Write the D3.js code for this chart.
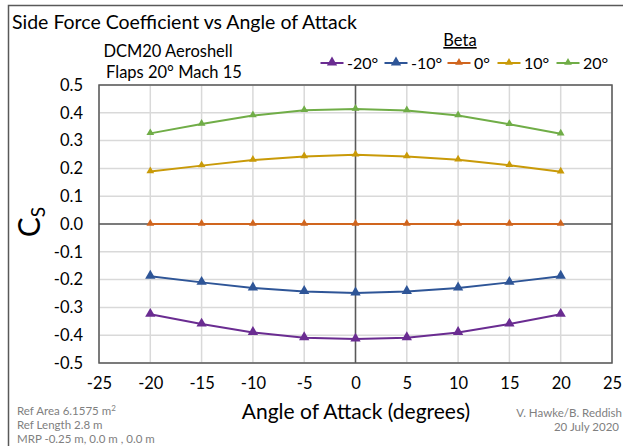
<!DOCTYPE html>
<html>
<head>
<meta charset="utf-8">
<script src="https://cdn.jsdelivr.net/npm/d3@7"></script>
<style>
  html, body { margin: 0; padding: 0; background: #fff; }
  svg { display: block; font-family: Lato, "Open Sans", sans-serif; }
</style>
</head>
<body>
<svg id="chart" width="623" height="446"></svg>
<script>
// Angle of attack (degrees)
const alpha = [-20, -15, -10, -5, 0, 5, 10, 15, 20];

// Side force coefficient per sideslip angle (Beta)
const betaLabels = ["-20°", "-10°", "0°", "10°", "20°"];
const csBetaM20 = [-0.325, -0.36, -0.39, -0.409, -0.414, -0.409, -0.39, -0.36, -0.325];
const csBetaM10 = [-0.188, -0.21, -0.23, -0.243, -0.248, -0.243, -0.23, -0.21, -0.188];
const csBeta0   = [0, 0, 0, 0, 0, 0, 0, 0, 0];
const csBetaP10 = [0.189, 0.21, 0.23, 0.243, 0.249, 0.243, 0.231, 0.211, 0.188];
const csBetaP20 = [0.326, 0.36, 0.39, 0.409, 0.414, 0.408, 0.39, 0.359, 0.325];

const xTicks = [-25, -20, -15, -10, -5, 0, 5, 10, 15, 20, 25];
const yTicks = [-0.5, -0.4, -0.3, -0.2, -0.1, 0, 0.1, 0.2, 0.3, 0.4, 0.5];

const seriesColors = ["#6a2c91", "#2e5597", "#d0651e", "#c99a08", "#70ad47"];
const markerSizes = [46, 46, 26, 26, 26];

const seriesData = [csBetaM20, csBetaM10, csBeta0, csBetaP10, csBetaP20];

const svg = d3.select("#chart");

// Outer chart border
svg.append("rect")
  .attr("x", 8.5).attr("y", 5.5)
  .attr("width", 640).attr("height", 460)
  .attr("fill", "none").attr("stroke", "#595959").attr("stroke-width", 1.5);

const plot = { left: 99, right: 612, top: 85, bottom: 363 };

const x = d3.scaleLinear().domain([-25, 25]).range([plot.left, plot.right]);
const y = d3.scaleLinear().domain([-0.5, 0.5]).range([plot.bottom, plot.top]);

// Gridlines
const grid = svg.append("g");
grid.selectAll("line.gx").data(xTicks).join("line")
  .attr("x1", d => x(d)).attr("x2", d => x(d))
  .attr("y1", plot.top).attr("y2", plot.bottom)
  .attr("stroke", "#d9d9d9").attr("stroke-width", 1.5);
grid.selectAll("line.gy").data(yTicks).join("line")
  .attr("x1", plot.left).attr("x2", plot.right)
  .attr("y1", d => y(d)).attr("y2", d => y(d))
  .attr("stroke", "#d9d9d9").attr("stroke-width", 1.5);

// Zero axes
svg.append("line")
  .attr("x1", plot.left).attr("x2", plot.right)
  .attr("y1", y(0)).attr("y2", y(0))
  .attr("stroke", "#595959").attr("stroke-width", 1.5);
svg.append("line")
  .attr("x1", x(0)).attr("x2", x(0))
  .attr("y1", plot.top).attr("y2", plot.bottom)
  .attr("stroke", "#595959").attr("stroke-width", 1.5);

// Plot frame
svg.append("rect")
  .attr("x", plot.left).attr("y", plot.top)
  .attr("width", plot.right - plot.left).attr("height", plot.bottom - plot.top)
  .attr("fill", "none").attr("stroke", "#595959").attr("stroke-width", 1.5);

// Tick labels (plain hyphen for negatives)
const hyphen = f => d => f(d).replace("\u2212", "-");
const yAxis = d3.axisLeft(y).tickValues(yTicks).tickFormat(hyphen(d3.format(".1f"))).tickSize(0).tickPadding(16);
const gy = svg.append("g").attr("transform", `translate(${plot.left},0)`).call(yAxis);
gy.select(".domain").remove();
gy.selectAll("text").attr("font-size", 16.5).attr("fill", "#000").attr("font-family", "Lato, sans-serif");

const xAxis = d3.axisBottom(x).tickValues(xTicks).tickFormat(hyphen(d3.format("d"))).tickSize(0).tickPadding(14);
const gx = svg.append("g").attr("transform", `translate(0,${plot.bottom})`).call(xAxis);
gx.select(".domain").remove();
gx.selectAll("text").attr("font-size", 16.5).attr("fill", "#000").attr("font-family", "Lato, sans-serif");

// Series lines and markers
const line = d3.line().x((d, i) => x(alpha[i])).y(d => y(d));
const tri = s => d3.symbol().type(d3.symbolTriangle).size(s)();

seriesData.forEach((vals, k) => {
  const g = svg.append("g");
  g.append("path").datum(vals)
    .attr("d", line)
    .attr("fill", "none").attr("stroke", seriesColors[k]).attr("stroke-width", 2);
  g.selectAll("path.m").data(vals).join("path")
    .attr("class", "m")
    .attr("d", tri(markerSizes[k]))
    .attr("transform", (d, i) => `translate(${x(alpha[i])},${y(d) - 0.5})`)
    .attr("fill", seriesColors[k]);
});

// Titles
svg.append("text").attr("x", 12).attr("y", 29)
  .attr("font-size", 19.5).text("Side Force Coefficient vs Angle of Attack");
svg.append("text").attr("x", 168).attr("y", 57).attr("text-anchor", "middle")
  .attr("font-size", 16.5).text("DCM20 Aeroshell");
svg.append("text").attr("x", 174).attr("y", 78).attr("text-anchor", "middle")
  .attr("font-size", 16.5).text("Flaps 20° Mach 15");

// Axis titles
svg.append("text").attr("x", 356).attr("y", 419).attr("text-anchor", "middle")
  .attr("font-size", 21).text("Angle of Attack (degrees)");
const yt = svg.append("text")
  .attr("transform", `translate(40,222) rotate(-90)`)
  .attr("text-anchor", "middle").attr("font-size", 30);
yt.append("tspan").text("C");
yt.append("tspan").attr("font-size", 19).attr("dy", 5).text("S");

// Legend
const legendX = [332, 396, 459, 509, 568];
svg.append("text").attr("x", 460).attr("y", 46).attr("text-anchor", "middle")
  .attr("font-size", 16.5).attr("text-decoration", "underline").text("Beta");
betaLabels.forEach((lab, k) => {
  const cx = legendX[k], cy = 63;
  svg.append("line").attr("x1", cx - 11.5).attr("x2", cx + 11.5)
    .attr("y1", cy).attr("y2", cy)
    .attr("stroke", seriesColors[k]).attr("stroke-width", 2);
  svg.append("path").attr("d", tri(markerSizes[k]))
    .attr("transform", `translate(${cx},${cy - 0.5})`).attr("fill", seriesColors[k]);
  svg.append("text").attr("x", cx + 15).attr("y", cy + 5.5)
    .attr("font-size", 16).text(lab);
});

// Reference notes
const notes = svg.append("g").attr("fill", "#808080").attr("font-size", 11.5);
notes.append("text").attr("x", 17).attr("y", 414.5).html("Ref Area 6.1575 m<tspan font-size='8' dy='-4'>2</tspan>");
notes.append("text").attr("x", 17).attr("y", 429).text("Ref Length 2.8 m");
notes.append("text").attr("x", 17).attr("y", 443).text("MRP -0.25 m, 0.0 m , 0.0 m");
notes.append("text").attr("x", 622).attr("y", 416.5).attr("text-anchor", "end").text("V. Hawke/B. Reddish");
notes.append("text").attr("x", 619).attr("y", 431).attr("text-anchor", "end").text("20 July 2020");
</script>
</body>
</html>
